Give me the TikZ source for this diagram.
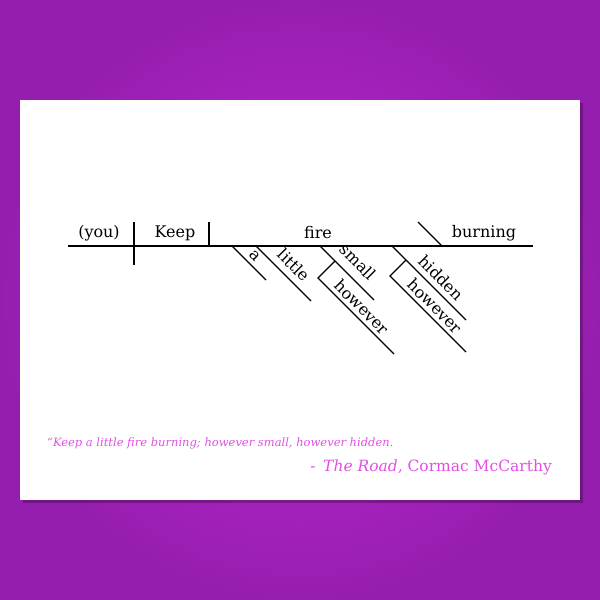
\documentclass[tikz,border=0pt]{standalone}
\usepackage{fontspec}
\setmainfont{DejaVu Serif}
\begin{document}
\begin{tikzpicture}[x=1pt,y=-1pt,
  ln/.style={line width=1.1pt,black},
  w/.style={font=\fontsize{16}{18}\selectfont,inner sep=0pt},
  sw/.style={w,rotate=-45}]
\useasboundingbox (0,0) rectangle (600,600);
\shade[inner color={rgb,255:red,195;green,40;blue,215},outer color={rgb,255:red,150;green,30;blue,175}] (0,0) rectangle (600,600);
\fill[black,opacity=0.25] (23,103) rectangle (583,503);
\fill[white] (20,100) rectangle (580,500);
% baseline
\coordinate (b0) at (68,246); \coordinate (b1) at (533,246);
\draw[ln] (b0) -- (b1);
\coordinate (d1a) at (134,222); \coordinate (d1b) at (134,265);
\draw[ln] (d1a) -- (d1b);
\coordinate (d2a) at (209,222); \coordinate (d2b) at (209,246);
\draw[ln] (d2a) -- (d2b);
\coordinate (d3a) at (418,222); \coordinate (d3b) at (442,246);
\draw[ln] (d3a) -- (d3b);
\node[w] (you) at (99,233) {(you)};
\node[w] (keep) at (175,233) {Keep};
\node[w] (fire) at (318,233) {fire};
\node[w] (burn) at (484,233) {burning};
% modifiers
\coordinate (a0) at (232,246); \coordinate (a1) at (266,280);
\draw[ln] (a0) -- (a1);
\node[sw] (a) at (255,256) {a};
\coordinate (l0) at (256,246); \coordinate (l1) at (311,301);
\draw[ln] (l0) -- (l1);
\node[sw] (little) at (294,265) {little};
\coordinate (s0) at (320,246); \coordinate (s1) at (374,300);
\draw[ln] (s0) -- (s1);
\node[sw] (small) at (358,262) {small};
\coordinate (sh0) at (335,261); \coordinate (sh1) at (318,278); \coordinate (sh2) at (394,354);
\draw[ln] (sh0) -- (sh1) -- (sh2);
\node[sw] (how1) at (362,307) {however};
\coordinate (h0) at (392,246); \coordinate (h1) at (466,320);
\draw[ln] (h0) -- (h1);
\node[sw] (hidden) at (441,278) {hidden};
\coordinate (hh0) at (406,260); \coordinate (hh1) at (390,276); \coordinate (hh2) at (466,352);
\draw[ln] (hh0) -- (hh1) -- (hh2);
\node[sw] (how2) at (435,306) {however};
% quote
\definecolor{qc}{RGB}{225,80,230}
\node[anchor=west,inner sep=0pt,text=qc,font=\fontsize{11.5}{13}\selectfont\itshape] (q1) at (47,443) {“Keep a little fire burning; however small, however hidden.};
\node[anchor=east,inner sep=0pt,text=qc,font=\fontsize{15.5}{17}\selectfont] (q2) at (552,467) {-\, \textit{The Road,} Cormac McCarthy};
\end{tikzpicture}
\end{document}
